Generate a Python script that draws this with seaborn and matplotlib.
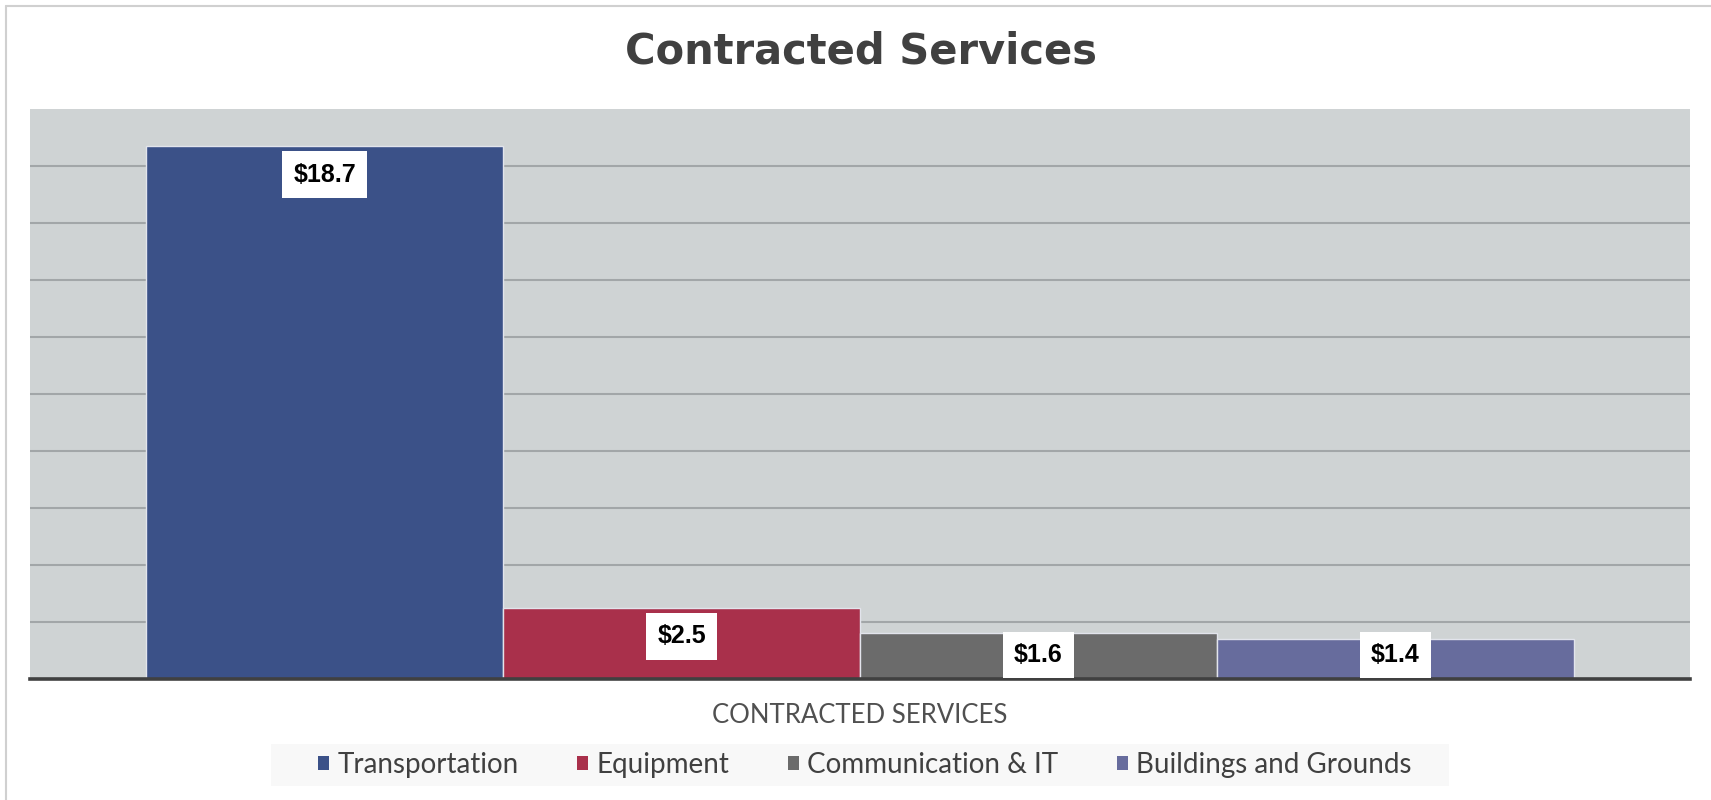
import pandas as pd
import matplotlib
matplotlib.use("Agg")
import matplotlib.pyplot as plt
from matplotlib.lines import Line2D
from matplotlib.patches import Rectangle
import seaborn as sns

# --- data ---
category = "CONTRACTED SERVICES"
services = ["Transportation", "Equipment", "Communication & IT", "Buildings and Grounds"]
amounts = [18.7, 2.5, 1.6, 1.4]
colors = ["#3B5188", "#A9304B", "#6B6B6B", "#676C9D"]

df = pd.DataFrame({"category": [category] * len(services),
                   "service": services,
                   "amount": amounts})

sns.set_style("white")
plt.rcParams['font.family'] = ['Liberation Sans', 'DejaVu Sans']

W, H = 1711, 800
fig = plt.figure(figsize=(W / 100, H / 100), dpi=100)
ax = fig.add_axes([30 / W, 1 - 679 / H, (1690 - 30) / W, (679 - 109) / H])
ax.set_facecolor("#CFD3D4")

sns.barplot(data=df, x="category", y="amount", hue="service", palette=colors,
            width=0.86, gap=0, saturation=1, edgecolor="#E2E4EC", linewidth=1,
            ax=ax, zorder=3)

ax.set_xlim(-0.5, 0.5)
ax.set_ylim(0, 20)
ax.set_yticks(range(2, 20, 2))
ax.yaxis.grid(True, color="#A2A6A8", linewidth=1.5, zorder=0)
ax.set_axisbelow(True)
ax.tick_params(axis="y", length=0, labelleft=False)
ax.tick_params(axis="x", length=0, pad=17, labelsize=18.5, labelcolor="#505050")
for lbl in ax.get_xticklabels():
    lbl.set_family(["Lato", "DejaVu Sans"])
ax.set_xlabel("")
ax.set_ylabel("")
for side in ["left", "right", "top"]:
    ax.spines[side].set_visible(False)
ax.spines["bottom"].set_color("#404040")
ax.spines["bottom"].set_linewidth(2.6)
ax.spines["bottom"].set_zorder(5)

# data labels in white boxes
for cont in ax.containers:
    for bar in cont:
        h = bar.get_height()
        xc = bar.get_x() + bar.get_width() / 2
        ax.text(xc, max(h - 1.0, 0.85), f"${h:.1f}", ha="center", va="center",
                fontsize=18, fontweight="bold", color="black", zorder=6,
                bbox=dict(boxstyle="square,pad=0.45", fc="white", ec="none"))

# legend on a light strip
fig.add_artist(Rectangle((271 / W, 1 - 786 / H), (1449 - 271) / W, 42 / H,
                         transform=fig.transFigure, facecolor="#F8F8F8",
                         edgecolor="none", zorder=0))
handles, labels = ax.get_legend_handles_labels()
ax.legend_.remove()
leg = fig.legend(handles, labels, loc="center", bbox_to_anchor=(865 / W, 1 - 765 / H),
                 ncol=4, frameon=False,
                 handlelength=0.4, handleheight=0.4, handletextpad=0.3,
                 columnspacing=2.1, borderpad=0.2,
                 prop={"family": ["Lato", "DejaVu Sans"], "size": 20})
for t in leg.get_texts():
    t.set_color("#404040")
for p in leg.get_patches():
    p.set_edgecolor("none")

# title
fig.text(861 / W, 1 - 63 / H, "Contracted Services", ha="center", va="baseline",
         fontsize=30, fontweight="bold", color="#404040",
         family=["DejaVu Sans"])

# chart border (left and top edges)
fig.add_artist(Line2D([6 / W, 6 / W], [0, 1 - 6 / H], color="#D0D0D0", linewidth=1.5))
fig.add_artist(Line2D([6 / W, 1], [1 - 6 / H, 1 - 6 / H], color="#D0D0D0", linewidth=1.5))

fig.savefig("out.png", dpi=100, facecolor="white")
